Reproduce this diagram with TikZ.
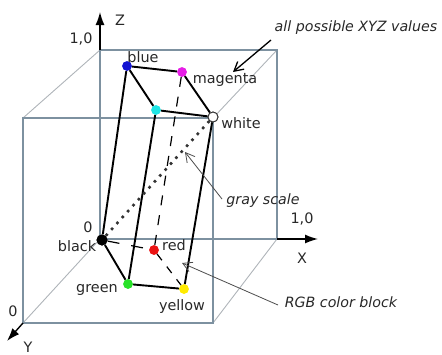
\documentclass[tikz,border=0pt]{standalone}
\usepackage{fontspec}
\setmainfont{DejaVu Sans}[ItalicFont={DejaVu Sans Oblique}]
\usetikzlibrary{arrows.meta}
\definecolor{edgeslate}{RGB}{125,145,160}
\definecolor{diaggray}{RGB}{175,180,185}
\definecolor{txt}{RGB}{40,40,40}
\definecolor{cblue}{RGB}{20,20,210}
\definecolor{cmag}{RGB}{230,30,230}
\definecolor{ccyan}{RGB}{30,230,230}
\definecolor{cred}{RGB}{235,20,20}
\definecolor{cgreen}{RGB}{40,225,40}
\definecolor{cyellow}{RGB}{255,235,0}
\tikzset{
  lbl/.style={anchor=base, inner sep=0pt, text=txt, font=\fontsize{14.4}{17}\selectfont},
  note/.style={lbl, font=\fontsize{14.2}{17}\selectfont\itshape},
  face/.style={draw=edgeslate, line width=1.1pt},
  diag/.style={draw=diaggray, line width=0.9pt},
  axis/.style={draw=black, line width=1.4pt, -{Latex[length=13pt,width=9pt]}},
  dot/.style={circle, inner sep=0pt, minimum size=9.5pt, draw=none},
  edge/.style={draw=black, line width=1.9pt},
  dashedge/.style={draw=black, line width=1.2pt, dash pattern=on 10pt off 10pt},
  pointer/.style={draw=black!70, line width=0.8pt, -{Straight Barb[length=9pt,width=10pt]}},
}
\begin{document}
\begin{tikzpicture}[x=1pt,y=-1pt]
\useasboundingbox (0,0) rectangle (442,354);
% cube corners
\coordinate (btl) at (100,50);
\coordinate (btr) at (277,50);
\coordinate (bbl) at (100,239);
\coordinate (bbr) at (277,239);
\coordinate (ftl) at (23,118);
\coordinate (ftr) at (213,118);
\coordinate (fbl) at (23,323);
\coordinate (fbr) at (213,323);
\coordinate (ztip) at (100,12);
\coordinate (xtip) at (318,239);
\coordinate (ytip) at (7,341);
% cube
\draw[diag] (btl) -- (ftl);
\draw[diag] (btr) -- (ftr);
\draw[diag] (bbr) -- (fbr);
\draw[diag] (bbl) -- (fbl);
\draw[face] (btl) -- (btr) -- (bbr) -- (bbl) -- cycle;
\draw[face] (ftl) -- (ftr) -- (fbr) -- (fbl) -- cycle;
% axes
\draw[axis] (btl) -- (ztip);
\draw[axis] (bbr) -- (xtip);
\draw[axis] (fbl) -- (ytip);
% color points
\node[dot, fill=cblue] (blue) at (127,66) {};
\node[dot, fill=cmag] (magenta) at (182,72) {};
\node[dot, fill=ccyan] (cyan) at (156,110) {};
\node[dot, draw=black!80, line width=0.9pt, fill=white, minimum size=10pt] (white) at (213,117) {};
\node[dot, fill=black, minimum width=10pt, minimum height=11pt] (black) at (102,240) {};
\node[dot, fill=cred] (red) at (154,250) {};
\node[dot, fill=cgreen] (green) at (128,284) {};
\node[dot, fill=cyellow] (yellow) at (184,289) {};
% block edges
\draw[edge] (blue) -- (magenta);
\draw[edge] (blue) -- (cyan);
\draw[edge] (magenta) -- (white);
\draw[edge] (cyan) -- (white);
\draw[edge] (blue) -- (black);
\draw[edge] (cyan) -- (green);
\draw[edge] (white) -- (yellow);
\draw[edge] (black) -- (green);
\draw[edge] (green) -- (yellow);
\draw[dashedge] (magenta) -- (red);
\draw[dashedge, dash pattern=on 8pt off 8pt] (red) -- (yellow);
\draw[dashedge, dash pattern=on 12pt off 12pt] (black) -- (red);
\draw[draw=black!80, line width=2.6pt, dash pattern=on 2.6pt off 5.4pt] (black) -- (white);
% redraw dots on top
\node[dot, fill=cblue] at (blue) {};
\node[dot, fill=cmag] at (magenta) {};
\node[dot, fill=ccyan] at (cyan) {};
\node[dot, draw=black!80, line width=0.9pt, fill=white, minimum size=10pt] at (white) {};
\node[dot, fill=black, minimum width=10pt, minimum height=11pt] at (black) {};
\node[dot, fill=cred] at (red) {};
\node[dot, fill=cgreen] at (green) {};
\node[dot, fill=cyellow] at (yellow) {};
% labels
\node[lbl] (zl) at (120,25) {Z};
\node[lbl] (z1) at (81,43) {1,0};
\node[lbl] (x1) at (302,223) {1,0};
\node[lbl] (xl) at (302,263) {X};
\node[lbl] (o1) at (88,232) {0};
\node[lbl] (o2) at (13,316) {0};
\node[lbl] (yl) at (28,352) {Y};
\node[lbl] (bluel) at (143,62) {blue};
\node[lbl] (magl) at (225,83) {magenta};
\node[lbl] (whitel) at (241,128) {white};
\node[lbl] (blackl) at (77,251) {black};
\node[lbl] (redl) at (174,250) {red};
\node[lbl] (greenl) at (97,292) {green};
\node[lbl] (yellowl) at (182,310) {yellow};
\node[note] (xyz) at (356,31) {all possible XYZ values};
\node[note] (gray) at (263,204) {gray scale};
\node[note] (rgb) at (341,307) {RGB color block};
% pointers
\coordinate (xyzs) at (271,40);
\coordinate (xyzt) at (233,72);
\coordinate (grs) at (222,199);
\coordinate (grt) at (185,152);
\coordinate (rgbs) at (278,305);
\coordinate (rgbt) at (182,263);
\draw[pointer, draw=black, line width=1.3pt] (xyzs) -- (xyzt);
\draw[pointer] (grs) -- (grt);
\draw[pointer] (rgbs) -- (rgbt);
\end{tikzpicture}
\end{document}
